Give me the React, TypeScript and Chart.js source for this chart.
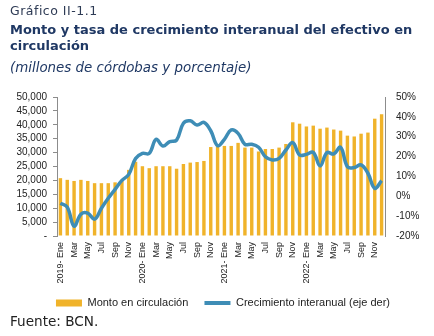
import React, { useEffect, useRef } from 'react';
import { Chart, registerables } from 'chart.js';

Chart.register(...registerables);

const years = ['2019', '2020', '2021', '2022'];
const monthNames = ['Ene', 'Feb', 'Mar', 'Abr', 'May', 'Jun', 'Jul', 'Ago', 'Sep', 'Oct', 'Nov', 'Dic'];
const categories = years.flatMap((y) => monthNames.map((m, i) => (i === 0 ? `${y}- ${m}` : m)));

// Monto en circulación (millones de córdobas)
const monto2019 = [20800, 20200, 19800, 20200, 19800, 19000, 19000, 19000, 19300, 19900, 23800, 26700];
const monto2020 = [25100, 24400, 25100, 25100, 25100, 24200, 25900, 26400, 26600, 27000, 32000, 32150];
const monto2021 = [32400, 32400, 33500, 31800, 31800, 30400, 31300, 31300, 31800, 33100, 40900, 40400];
const monto2022 = [39400, 39700, 38600, 39000, 38300, 37900, 36100, 35800, 36800, 37200, 42200, 43800];
const montos = [...monto2019, ...monto2020, ...monto2021, ...monto2022];

// Crecimiento interanual (%)
const crec2019 = [-3.5, -5.5, -15, -9, -8.5, -11.5, -6, -1, 3.5, 8, 11, 19];
const crec2020 = [21.6, 21.6, 28.7, 25.3, 27.5, 28.3, 36.8, 38, 35.9, 37.2, 33, 25.5];
const crec2021 = [28.7, 33.4, 31.7, 26.2, 26.2, 24.7, 19.9, 18.3, 19.1, 23.3, 27, 20.8];
const crec2022 = [21.1, 22.1, 15.3, 22, 21.3, 24.7, 14.9, 14.5, 15.8, 11.6, 4, 7.9];
const crecimiento = [...crec2019, ...crec2020, ...crec2021, ...crec2022];

const leftTicks = { min: 0, max: 50000, step: 5000 };
const rightTicks = { min: -20, max: 50, step: 10 };

const seriesNames = ['Monto en circulación', 'Crecimiento interanual (eje der)'];

const BAR_COLOR = '#F0B32A';
const LINE_COLOR = '#3E8DB6';
const AXIS_COLOR = '#8C8C8C';
const TEXT_COLOR = '#222222';

export default function App() {
  const canvasRef = useRef<HTMLCanvasElement | null>(null);

  useEffect(() => {
    if (!canvasRef.current) return;
    const chart = new Chart(canvasRef.current, {
      type: 'bar',
      data: {
        labels: categories,
        datasets: [
          {
            type: 'bar',
            label: seriesNames[0],
            data: montos,
            backgroundColor: BAR_COLOR,
            borderWidth: 0,
            barPercentage: 0.5,
            categoryPercentage: 1,
            yAxisID: 'y',
            order: 2,
          },
          {
            type: 'line',
            label: seriesNames[1],
            data: crecimiento,
            borderColor: LINE_COLOR,
            backgroundColor: LINE_COLOR,
            borderWidth: 3.5,
            pointRadius: 0,
            tension: 0.4,
            fill: false,
            yAxisID: 'y1',
            order: 1,
          },
        ],
      },
      options: {
        animation: false,
        responsive: false,
        maintainAspectRatio: false,
        layout: { padding: { top: 97, left: 12, right: 0, bottom: 17.5 } },
        plugins: {
          tooltip: { enabled: false },
          title: { display: false },
          legend: {
            display: true,
            position: 'bottom',
            labels: {
              usePointStyle: true,
              pointStyleWidth: 26,
              boxHeight: 7,
              padding: 10,
              color: TEXT_COLOR,
              font: { family: 'Liberation Sans', size: 11 },
              generateLabels: () => [
                {
                  text: seriesNames[0] + '\u00A0\u00A0',
                  fillStyle: BAR_COLOR,
                  strokeStyle: BAR_COLOR,
                  lineWidth: 0,
                  pointStyle: 'rect',
                  hidden: false,
                  datasetIndex: 0,
                  fontColor: TEXT_COLOR,
                },
                {
                  text: seriesNames[1],
                  fillStyle: LINE_COLOR,
                  strokeStyle: LINE_COLOR,
                  lineWidth: 4,
                  pointStyle: 'line',
                  hidden: false,
                  datasetIndex: 1,
                  fontColor: TEXT_COLOR,
                },
              ],
            },
          },
        },
        scales: {
          x: {
            type: 'category',
            offset: true,
            grid: { display: false, drawTicks: false },
            border: { display: false },
            ticks: {
              autoSkip: false,
              maxRotation: 90,
              minRotation: 90,
              padding: 6,
              color: TEXT_COLOR,
              font: { family: 'Liberation Sans', size: 9 },
              callback: (_v: any, i: number) => (i % 2 === 0 ? categories[i] : ''),
            },
            afterFit: (s: any) => {
              s.height = 51.5;
            },
          },
          y: {
            type: 'linear',
            position: 'left',
            min: leftTicks.min,
            max: leftTicks.max,
            grid: { display: true, drawOnChartArea: false, drawTicks: true, tickLength: 4, color: AXIS_COLOR },
            border: { display: true, color: AXIS_COLOR, width: 1 },
            ticks: {
              stepSize: leftTicks.step,
              autoSkip: false,
              padding: 6,
              color: TEXT_COLOR,
              font: { family: 'Liberation Sans', size: 10 },
              callback: (v: any) => (Number(v) === 0 ? '-' : Number(v).toLocaleString('en-US')),
            },
            afterFit: (s: any) => {
              s.width = 45;
            },
          },
          y1: {
            type: 'linear',
            position: 'right',
            min: rightTicks.min,
            max: rightTicks.max,
            grid: { display: false, drawTicks: false },
            border: { display: true, color: AXIS_COLOR, width: 1 },
            ticks: {
              stepSize: rightTicks.step,
              autoSkip: false,
              padding: 11,
              color: TEXT_COLOR,
              font: { family: 'Liberation Sans', size: 10 },
              callback: (v: any) => `${v}%`,
            },
            afterFit: (s: any) => {
              s.width = 49;
            },
          },
        },
      },
    } as any);
    return () => chart.destroy();
  }, []);

  const base: React.CSSProperties = { position: 'absolute', left: 10, whiteSpace: 'nowrap', fontFamily: 'DejaVu Sans' };

  return (
    <div style={{ position: 'absolute', left: 0, top: 0, width: 434, height: 336, background: '#fff', overflow: 'hidden' }}>
      <canvas ref={canvasRef} width={434} height={336} style={{ position: 'absolute', left: 0, top: 0, width: 434, height: 336 }} />
      <div style={{ ...base, top: 4, fontSize: 12.5, lineHeight: '14px', letterSpacing: '0.5px', color: '#2E3B55' }}>Gráfico II-1.1</div>
      <div style={{ ...base, top: 22, fontSize: 13, lineHeight: '16px', fontWeight: 'bold', color: '#1F3864' }}>
        Monto y tasa de crecimiento interanual del efectivo en
        <br />
        circulación
      </div>
      <div style={{ ...base, top: 60, fontSize: 13.4, lineHeight: '16px', fontStyle: 'italic', color: '#1F3864' }}>
        (millones de córdobas y porcentaje)
      </div>
      <div style={{ ...base, top: 313, fontSize: 13.6, lineHeight: '16px', color: TEXT_COLOR }}>Fuente: BCN.</div>
    </div>
  );
}
